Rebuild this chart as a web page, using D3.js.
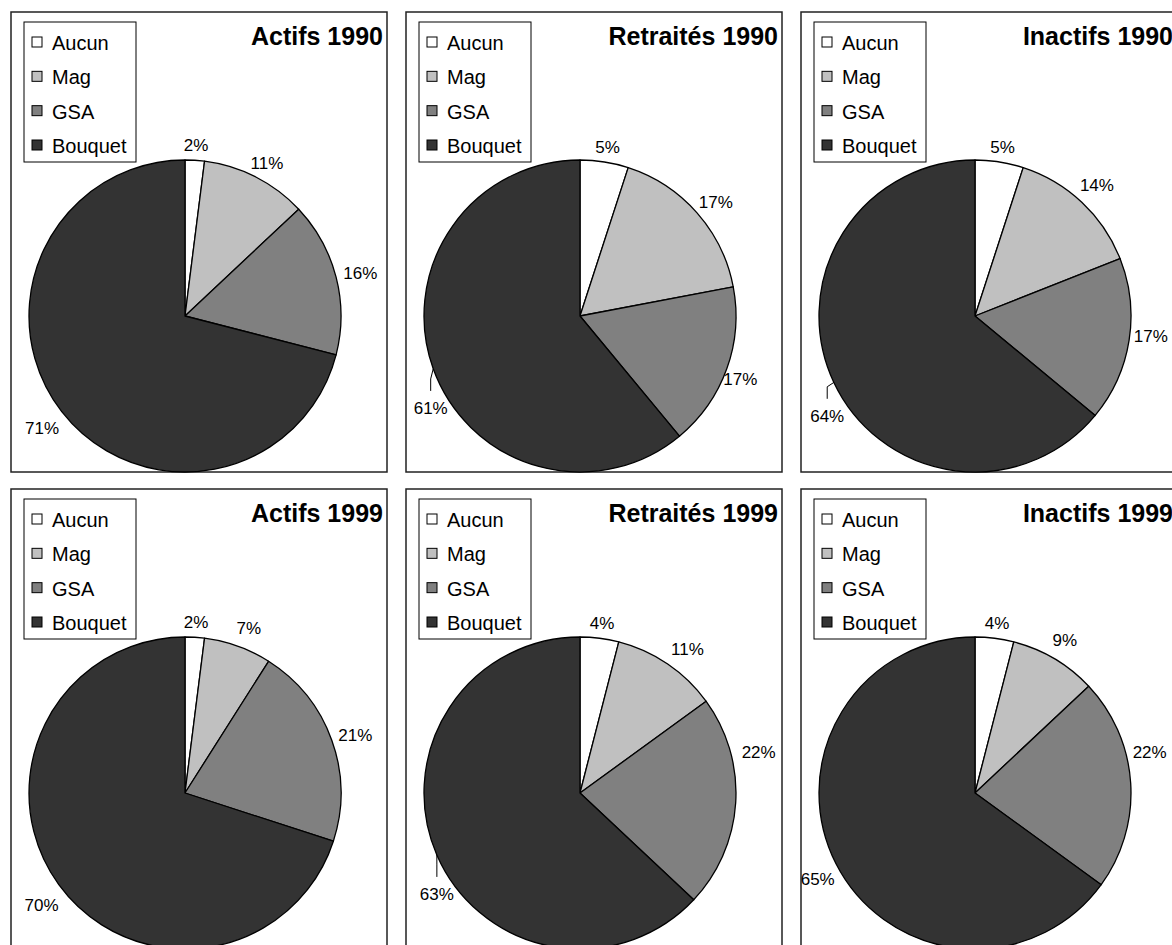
<!DOCTYPE html>
<html>
<head>
<meta charset="utf-8">
<script src="https://cdn.jsdelivr.net/npm/d3@7"></script>
<style>
  html, body { margin: 0; padding: 0; background: #fff; }
  svg { display: block; }
  text { font-family: "Liberation Sans", Arial, sans-serif; }
</style>
</head>
<body>
<svg id="chart" width="1172" height="945"></svg>
<script>
// ---- data ----
const categories = ["Aucun", "Mag", "GSA", "Bouquet"];
const panelTitles = ["Actifs 1990", "Retraités 1990", "Inactifs 1990",
                     "Actifs 1999", "Retraités 1999", "Inactifs 1999"];
const actifs1990    = [2, 11, 16, 71];
const retraites1990 = [5, 17, 17, 61];
const inactifs1990  = [5, 14, 17, 64];
const actifs1999    = [2, 7, 21, 70];
const retraites1999 = [4, 11, 22, 63];
const inactifs1999  = [4, 9, 22, 65];
const seriesValues = [actifs1990, retraites1990, inactifs1990,
                      actifs1999, retraites1999, inactifs1999];

// ---- style / layout ----
const sliceColors = ["#ffffff", "#c0c0c0", "#808080", "#333333"];
const panelW = 376, panelH = 460, stepX = 395, stepY = 477, originX = 11, originY = 12;
const pieCX = 174, pieCY = 304, radius = 156;
// manual label moves (layout only): panel index -> slice index -> [dx, dy, leader]
const labelMoves = {
  0: {3: [0, 8, false]},
  1: {2: [-10, 6, false], 3: [21, 35, true]},
  2: {1: [-2, -6, false], 2: [-3, -6, false], 3: [16, 28, true]},
  3: {1: [4, -4, false], 3: [3, 12, false]},
  4: {1: [6, -2, false], 2: [-2, -51, false], 3: [23, 34, true]},
  5: {1: [0, -5, false], 2: [-6, -30, false], 3: [4, 9, false]}
};

const svg = d3.select("#chart");
const color = d3.scaleOrdinal().domain(categories).range(sliceColors);
const pie = d3.pie().sort(null).value(d => d);
const arc = d3.arc().innerRadius(0).outerRadius(radius);

// text width measure helper
const measure = svg.append("text").attr("font-size", 17).attr("visibility", "hidden");
function textW(s) { measure.text(s); return measure.node().getComputedTextLength(); }

seriesValues.forEach((vals, i) => {
  const col = i % 3, row = Math.floor(i / 3);
  const g = svg.append("g")
    .attr("transform", `translate(${originX + col * stepX},${originY + row * stepY})`);

  // panel border
  g.append("rect")
    .attr("x", 0).attr("y", 0).attr("width", panelW).attr("height", panelH)
    .attr("fill", "#fff").attr("stroke", "#222").attr("stroke-width", 1.5);

  // pie
  const pg = g.append("g").attr("transform", `translate(${pieCX},${pieCY})`);
  const arcs = pie(vals);
  pg.selectAll("path").data(arcs).join("path")
    .attr("d", arc)
    .attr("fill", (d, k) => color(categories[k]))
    .attr("stroke", "#000").attr("stroke-width", 1.3).attr("stroke-linejoin", "round");

  // labels
  const pad = 8, h = 14;
  arcs.forEach((a, k) => {
    const theta = (a.startAngle + a.endAngle) / 2;
    const s = Math.sin(theta), c = Math.cos(theta);
    const txt = vals[k] + "%";
    const w = textW(txt);
    let lx = (radius + pad) * s + (w / 2) * s;
    let ly = -(radius + pad) * c - (h / 2) * c;
    const mv = labelMoves[i] && labelMoves[i][k];
    if (mv) {
      lx += mv[0]; ly += mv[1];
      if (mv[2]) {
        const ex = radius * s, ey = -radius * c;
        pg.append("polyline")
          .attr("points", `${ex},${ey} ${lx},${ly - 30} ${lx},${ly - 18}`)
          .attr("fill", "none").attr("stroke", "#000").attr("stroke-width", 1);
      }
    }
    pg.append("text")
      .attr("x", lx).attr("y", ly)
      .attr("text-anchor", "middle").attr("dominant-baseline", "central")
      .attr("font-size", 17).attr("fill", "#000")
      .text(txt);
  });

  // title
  g.append("text")
    .attr("x", panelW - 4).attr("y", 33)
    .attr("text-anchor", "end")
    .attr("font-size", 25).attr("font-weight", "bold").attr("fill", "#000")
    .text(panelTitles[i]);

  // legend
  const lg = g.append("g").attr("transform", "translate(13,10)");
  lg.append("rect").attr("width", 112).attr("height", 140)
    .attr("fill", "#fff").attr("stroke", "#000").attr("stroke-width", 1);
  const legendY = d3.scalePoint().domain(categories).range([20, 123]);
  categories.forEach(cat => {
    const y = legendY(cat);
    lg.append("rect").attr("x", 8).attr("y", y - 5).attr("width", 10).attr("height", 10)
      .attr("fill", color(cat)).attr("stroke", "#000").attr("stroke-width", 1);
    lg.append("text").attr("x", 28).attr("y", y + 1)
      .attr("dominant-baseline", "central")
      .attr("font-size", 20).attr("fill", "#000").text(cat);
  });
});
measure.remove();
</script>
</body>
</html>
